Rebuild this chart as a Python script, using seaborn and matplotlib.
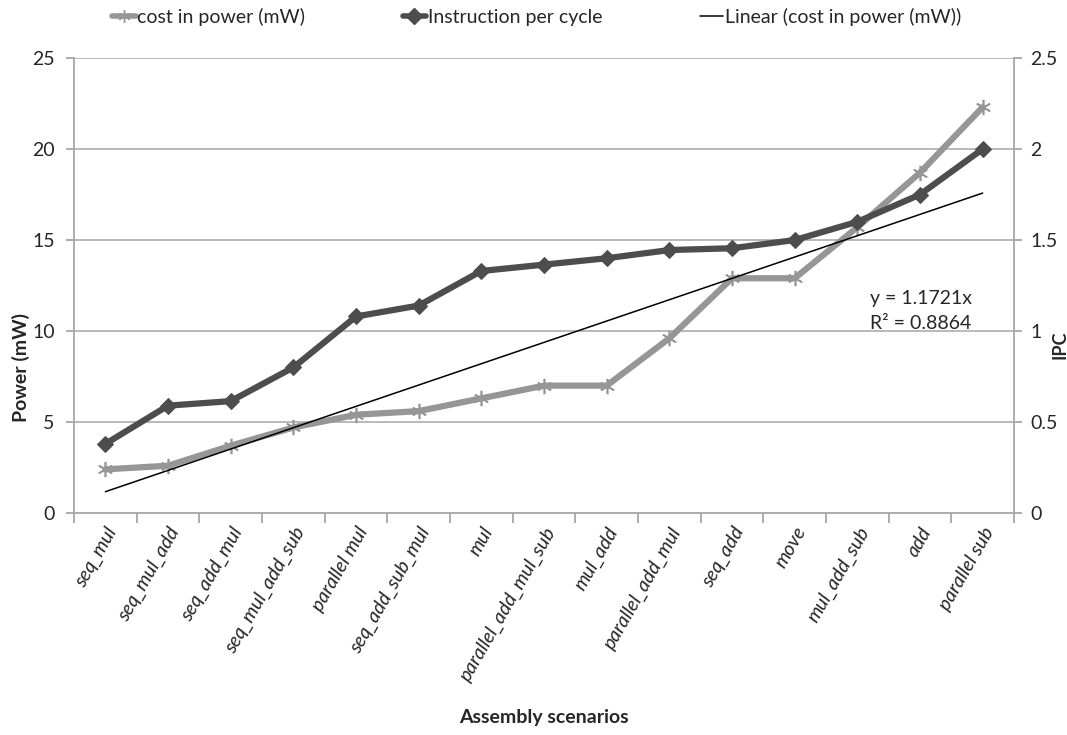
import matplotlib
matplotlib.use("Agg")
import matplotlib.pyplot as plt
import seaborn as sns
import pandas as pd
import numpy as np
from matplotlib.lines import Line2D

categories = ["seq_mul", "seq_mul_add", "seq_add_mul", "seq_mul_add_sub", "parallel mul",
              "seq_add_sub_mul", "mul", "parallel_add_mul_sub", "mul_add", "parallel_add_mul",
              "seq_add", "move", "mul_add_sub", "add", "parallel sub"]
power_mw = [2.4, 2.6, 3.7, 4.7, 5.4, 5.6, 6.3, 7.0, 7.0, 9.6, 12.9, 12.9, 15.7, 18.7, 22.3]
ipc = [0.38, 0.59, 0.615, 0.80, 1.08, 1.14, 1.33, 1.365, 1.40, 1.445, 1.455, 1.50, 1.60, 1.75, 2.00]
trend_slope = 1.1721
r_squared = 0.8864

sns.set_theme(style="white")
plt.rcParams['font.family'] = ["Lato", "DejaVu Sans"]

df = pd.DataFrame({"scenario": categories, "power": power_mw, "ipc": ipc})

fig = plt.figure(figsize=(10.67, 7.35), dpi=100)
ax = fig.add_axes([0.0694, 0.302, 0.9503 - 0.0694, 0.921 - 0.302])
ax2 = ax.twinx()

grid_c = "#a6a6a6"
power_c = "#969696"
ipc_c = "#4d4d4d"

sns.lineplot(data=df, x="scenario", y="power", ax=ax, color=power_c, lw=4.5,
             marker=(6, 2, 0), markersize=11, markeredgecolor=power_c, markeredgewidth=1.2,
             sort=False, zorder=3)
sns.lineplot(data=df, x="scenario", y="ipc", ax=ax2, color=ipc_c, lw=4.5,
             marker="D", markersize=8, markeredgecolor=ipc_c, sort=False, zorder=4)

idx = np.arange(len(categories))
ax.plot(idx, trend_slope * (idx + 1), color="black", lw=1.1, zorder=5)

ax.set_xlim(-0.5, len(categories) - 0.5)
ax.set_ylim(0, 25)
ax2.set_ylim(0, 2.5)
ax.set_yticks(np.arange(0, 26, 5))
ax2.set_yticks(np.arange(0, 2.6, 0.5))
ax2.set_yticklabels(["0", "0.5", "1", "1.5", "2", "2.5"])

for y in np.arange(5, 26, 5):
    ax.axhline(y, color=grid_c, lw=1.1, zorder=1)

ax.spines["top"].set_visible(False)
ax.spines["right"].set_visible(False)
ax2.spines["left"].set_visible(False)
ax2.spines["top"].set_visible(False)
ax2.spines["bottom"].set_visible(False)
ax.spines["left"].set_color(grid_c)
ax.spines["bottom"].set_color(grid_c)
ax2.spines["right"].set_color(grid_c)
for a in (ax, ax2):
    for sp in a.spines.values():
        sp.set_linewidth(1.3)

ax.set_xticks(idx)
ax.set_xticklabels(categories, rotation=60, ha="right", rotation_mode="anchor",
                   fontsize=14, style="italic")
ax.tick_params(axis="x", length=0, pad=8)
ax.set_xticks(np.arange(-0.5, len(categories), 1), minor=True)
ax.tick_params(axis="x", which="minor", length=7, color=grid_c, width=1.3, bottom=True)
ax.tick_params(axis="y", length=6, color=grid_c, width=1.3, labelsize=14, left=True, pad=8)
ax2.tick_params(axis="y", length=6, color=grid_c, width=1.3, labelsize=14, right=True, pad=6)

ax.set_xlabel("Assembly scenarios", fontsize=14, fontweight="bold", labelpad=18)
ax.set_ylabel("Power (mW)", fontsize=14, fontweight="bold", va="center")
ax.yaxis.set_label_coords(-0.057, 0.32)
ax2.set_ylabel("IPC", fontsize=13, fontweight="bold", rotation=90, va="center")
ax2.yaxis.set_label_coords(1.049, 0.37)

ax.text(12.2, 11.8, f"y = {trend_slope}x", fontsize=14, va="center")
ax.text(12.2, 10.4, f"R² = {r_squared}", fontsize=14, va="center")

handles = [
    Line2D([], [], color=power_c, lw=4, marker=(6, 2, 0), markersize=9, markeredgecolor=power_c),
    Line2D([], [], color=ipc_c, lw=4, marker="D", markersize=8),
    Line2D([], [], color="black", lw=1.1),
]
labels = ["cost in power (mW)", "Instruction per cycle", "Linear (cost in power (mW))"]
fig.legend(handles, labels, loc="center", bbox_to_anchor=(0.503, 0.977), ncol=3,
           frameon=False, fontsize=14, handlelength=1.2, handletextpad=0.1, columnspacing=5.0)

fig.savefig("out.png", dpi=100)
